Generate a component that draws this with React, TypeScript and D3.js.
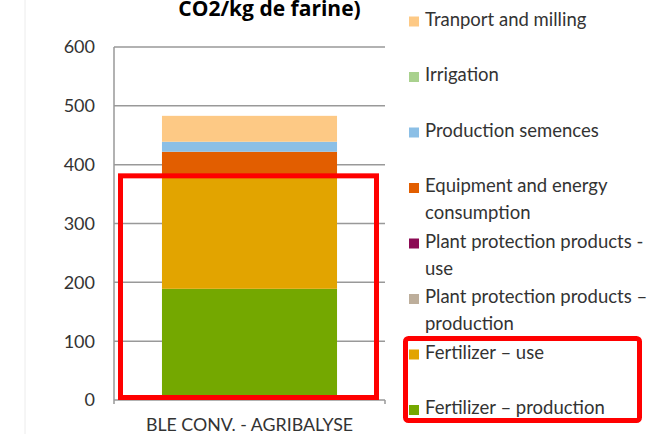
import React from "react";
import * as d3 from "d3";

const categories = ["BLE CONV. - AGRIBALYSE"];
const seriesNames = [
  "Fertilizer – production",
  "Fertilizer – use",
  "Plant protection products – production",
  "Plant protection products - use",
  "Equipment and energy consumption",
  "Production semences",
  "Irrigation",
  "Tranport and milling",
];
const seriesValues = [189, 195, 0, 0, 38, 17, 0, 44];
const seriesColors = ["#74a800", "#e2a400", "#bdae9b", "#8c0a54", "#e25e00", "#8bbfe6", "#a9d18e", "#fdc985"];
const legendLines = [
  ["Tranport and milling"],
  ["Irrigation"],
  ["Production semences"],
  ["Equipment and energy", "consumption"],
  ["Plant protection products -", "use"],
  ["Plant protection products –", "production"],
  ["Fertilizer – use"],
  ["Fertilizer – production"],
];
const yTicks = [0, 100, 200, 300, 400, 500, 600];
const titleText = "CO2/kg de farine)";

const W = 667;
const H = 434;
const FONT = "Lato, 'Open Sans', sans-serif";

export default function App() {
  const x = d3.scaleBand<string>().domain(categories).range([114, 385]).paddingInner(0).paddingOuter(0.274);
  const y = d3.scaleLinear().domain([0, 600]).range([400, 47]);

  const row: Record<string, number | string> = { cat: categories[0] };
  seriesNames.forEach((n, i) => (row[n] = seriesValues[i]));
  const stack = d3.stack<any>().keys(seriesNames)([row]);

  const [x0, x1] = x.range();
  const legendTop = 25.5;
  const legendStep = 55.5;
  const lineGap = 27;
  const gridColor = "#999999";

  return (
    <svg width={W} height={H} style={{ position: "absolute", left: 0, top: 0, background: "#fff" }} fontFamily={FONT}>
      <rect x={0} y={0} width={W} height={H} fill="#fff" />
      <line x1={25} x2={25} y1={0} y2={H} stroke="#ececec" strokeWidth={1} />
      <text
        x={269.5}
        y={16}
        textAnchor="middle"
        fontWeight="bold"
        fontSize={21}
        fontFamily="'Open Sans', sans-serif"
        fill="#000"
      >
        {titleText}
      </text>
      {yTicks.map((t) => (
        <g key={t}>
          {t > 0 && <line x1={x0} x2={x1} y1={y(t)} y2={y(t)} stroke={gridColor} strokeWidth={1.5} />}
          <text x={95} y={y(t)} dy="0.36em" textAnchor="end" fontSize={18} fill="#333">
            {t}
          </text>
        </g>
      ))}
      {stack.map((s, i) =>
        s.map((d, j) => (
          <rect
            key={`${i}-${j}`}
            x={x(categories[j])}
            width={x.bandwidth()}
            y={y(d[1])}
            height={Math.max(0, y(d[0]) - y(d[1]))}
            fill={seriesColors[i]}
          />
        ))
      )}
      <line x1={x0} x2={x0} y1={y(600)} y2={y(0) + 4} stroke={gridColor} strokeWidth={1.5} />
      <line x1={x0} x2={x1} y1={y(0)} y2={y(0)} stroke={gridColor} strokeWidth={1.5} />
      <line x1={x1} x2={x1} y1={y(0)} y2={y(0) + 4} stroke={gridColor} strokeWidth={1.5} />
      {categories.map((c) => (
        <text key={c} x={(x(c) ?? 0) + x.bandwidth() / 2} y={431} textAnchor="middle" fontSize={17.8} fill="#333">
          {c}
        </text>
      ))}
      {legendLines.map((lines, i) => {
        const by = legendTop + i * legendStep;
        const color = seriesColors[seriesColors.length - 1 - i];
        return (
          <g key={i}>
            <rect x={409} y={by - 9} width={10} height={10} fill={color} />
            {lines.map((l, k) => (
              <text key={k} x={425} y={by + k * lineGap} fontSize={18.5} fill="#333">
                {l}
              </text>
            ))}
          </g>
        );
      })}
      <rect x={x0 + 6.5} y={y(381)} width={x1 - x0 - 15} height={y(0) - 2.5 - y(381)} fill="none" stroke="#ff0000" strokeWidth={5} />
      <rect x={405.5} y={338.5} width={234} height={82} rx={3} fill="none" stroke="#ff0000" strokeWidth={5} />
    </svg>
  );
}
